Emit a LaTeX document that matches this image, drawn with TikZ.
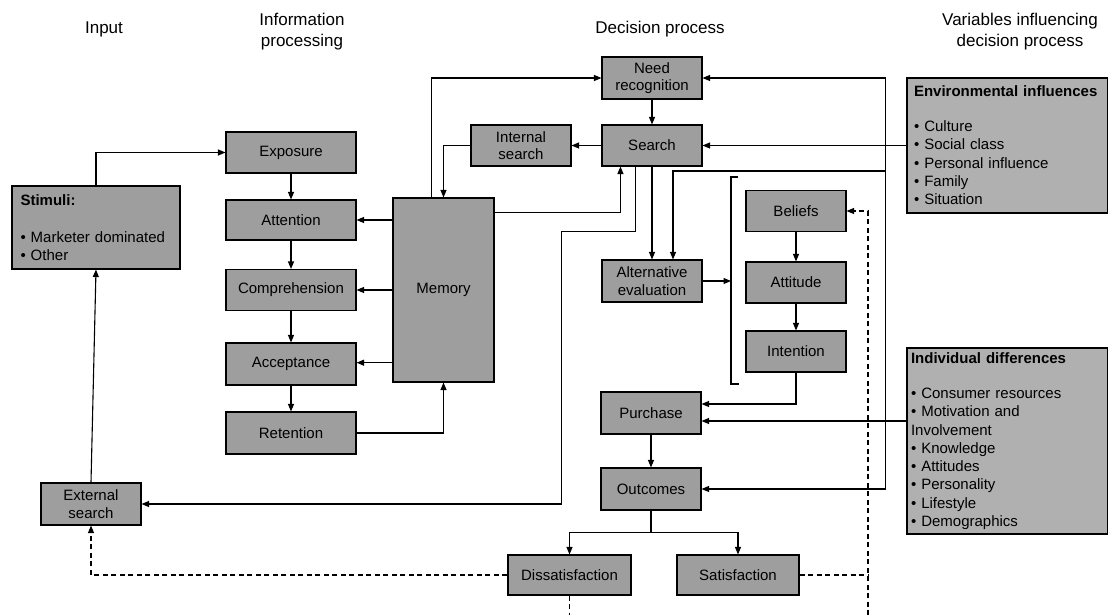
\documentclass[tikz,border=0pt]{standalone}
\usepackage{fontspec}
\setmainfont{Liberation Sans}
\usetikzlibrary{arrows.meta,calc}
\definecolor{boxfill}{RGB}{158,158,158}
\definecolor{varfill}{RGB}{176,176,176}
\begin{document}
\begin{tikzpicture}[x=1pt,y=-1pt,
  box/.style={draw=black, line width=1.1pt, fill=boxfill, inner sep=0pt, align=center, font=\fontsize{15}{17.5}\selectfont},
  varbox/.style={draw=black, line width=1.1pt, fill=varfill, align=left, inner ysep=0pt, font=\fontsize{15}{18.3}\selectfont},
  hdr/.style={align=center, font=\fontsize{17}{21}\selectfont},
  conn/.style={line width=1.1pt},
  arr/.style={conn, -{Triangle[length=7.5pt,width=6pt]}},
  darr/.style={conn, dash pattern=on 5pt off 3.5pt, -{Triangle[length=7.5pt,width=6pt]}},
  dln/.style={conn, dash pattern=on 5pt off 3.5pt}]
\useasboundingbox (0,0) rectangle (1108,615);

% headers
\node[hdr] (hin) at (104,29) {Input};
\node[hdr] (hip) at (302,31.5) {Information\\processing};
\node[hdr] (hdp) at (660,29) {Decision process};
\node[hdr] (hvar) at (1020,31.5) {Variables influencing\\decision process};

% input column
\node[varbox, fill=boxfill, minimum width=168pt, minimum height=83pt, inner xsep=8.5pt, text width=151pt] (stimuli) at (96,227.5)
  {\textbf{Stimuli:}\\[19pt]• Marketer dominated\\• Other};
\node[box, minimum width=100pt, minimum height=42pt] (extsearch) at (91,504) {External\\search};

% information processing
\node[box, minimum width=130pt, minimum height=41pt] (exposure) at (291,152.5) {Exposure};
\node[box, minimum width=130pt, minimum height=40pt] (attention) at (291,220) {Attention};
\node[box, minimum width=130pt, minimum height=41pt] (comprehension) at (291,290) {Comprehension};
\node[box, minimum width=130pt, minimum height=42pt] (acceptance) at (291,364) {Acceptance};
\node[box, minimum width=130pt, minimum height=42pt] (retention) at (291,433) {Retention};
\node[box, minimum width=101pt, minimum height=184pt] (memory) at (443.5,290) {Memory};

% decision process
\node[box, minimum width=100pt, minimum height=42pt] (needrec) at (652,78) {Need\\recognition};
\node[box, minimum width=100pt, minimum height=41pt] (search) at (652,145.5) {Search};
\node[box, minimum width=100pt, minimum height=41pt] (intsearch) at (521,145.5) {Internal\\search};
\node[box, minimum width=100pt, minimum height=42pt] (alteval) at (652,281) {Alternative\\evaluation};
\node[box, minimum width=100pt, minimum height=41pt] (beliefs) at (796,211) {Beliefs};
\node[box, minimum width=100pt, minimum height=41pt] (attitude) at (796,282.5) {Attitude};
\node[box, minimum width=100pt, minimum height=41pt] (intention) at (796,351.5) {Intention};
\node[box, minimum width=100pt, minimum height=42pt] (purchase) at (651,413) {Purchase};
\node[box, minimum width=100pt, minimum height=42pt] (outcomes) at (651,489) {Outcomes};
\node[box, minimum width=123pt, minimum height=40pt] (dissat) at (569.5,575) {Dissatisfaction};
\node[box, minimum width=122pt, minimum height=40pt] (satis) at (738,575) {Satisfaction};

% variables
\node[varbox, minimum width=201pt, minimum height=135pt, inner xsep=7pt, text width=187pt] (env) at (1007.5,145.5)
  {\textbf{Environmental influences}\\[16.5pt]• Culture\\• Social class\\• Personal influence\\• Family\\• Situation};
\node[varbox, minimum width=201pt, minimum height=186pt, inner xsep=4pt, text width=193pt] (indiv) at (1007.5,441)
  {\textbf{Individual differences}\\[17pt]• Consumer resources\\• Motivation and\\Involvement\\• Knowledge\\• Attitudes\\• Personality\\• Lifestyle\\• Demographics};

% coordinates
\coordinate (brT) at (731,177);
\coordinate (brB) at (731,384);
\coordinate (busT) at (885.7,78);
\coordinate (busM) at (885.7,171);
\coordinate (busB) at (885.7,489);
\coordinate (cs) at (561.7,231.7);
\coordinate (dbot) at (868,615);
\coordinate (dsbot) at (569.5,615);
\coordinate (pin) at ([yshift=-8pt]purchase.east);

% input / information processing connectors
\draw[arr] (stimuli.north) |- (exposure.west);
\draw[arr] (extsearch.north) -- (stimuli.south);
\draw[arr] (exposure) -- (attention);
\draw[arr] (attention) -- (comprehension);
\draw[arr] (comprehension) -- (acceptance);
\draw[arr] (acceptance) -- (retention);
\draw[arr] (memory.west |- attention.east) -- (attention.east);
\draw[arr] (memory.west |- comprehension.east) -- (comprehension.east);
\draw[arr] ([yshift=1.3pt]memory.west |- acceptance.east) -- ([yshift=1.3pt]acceptance.east);
\draw[arr] (retention.east) -| (memory.south);

% memory / search
\draw[arr] ([xshift=-12pt]memory.north) |- (needrec.west);
\draw[arr] (needrec) -- (search);
\draw[arr] (search) -- (intsearch);
\draw[arr] (intsearch.west) -| (memory.north);
\draw[arr] ([yshift=-15pt]memory.north east) -| ([xshift=19pt]search.south west);
\draw[arr] ([xshift=34pt]search.south west) |- (cs) |- (extsearch.east);
\draw[arr] (search) -- (alteval);

% environmental bus
\draw[conn] (busT) -- (busB);
\draw[arr] (busT) -- (needrec.east);
\draw[arr] (env.west) -- (search.east);
\draw[arr] (busM) -| ([xshift=21pt]alteval.north);
\draw[arr] (busB) -- (outcomes.east);

% bracket and belief chain
\draw[conn] ([xshift=7pt]brT) -- (brT) -- (brB) -- ([xshift=7.5pt]brB);
\draw[arr] (alteval.east) -- (alteval.east -| brT);
\draw[arr] (beliefs) -- (attitude);
\draw[arr] (attitude) -- (intention);
\draw[arr] (intention.south) |- ([yshift=9pt]purchase.east);
\draw[arr] (pin -| indiv.west) -- (pin);

% outcomes
\draw[arr] (purchase) -- (outcomes);
\draw[conn] (outcomes.south) -- ++(0,22) coordinate (split);
\draw[arr] (split) -| (dissat.north);
\draw[arr] (split) -| (satis.north);

% dashed feedback
\draw[darr] (dissat.west) -| (extsearch.south);
\draw[dln] (dissat.south) -- (dsbot);
\draw[dln] (satis.east) -- (satis.east -| dbot);
\draw[darr] (dbot) |- (beliefs.east);
\end{tikzpicture}
\end{document}
